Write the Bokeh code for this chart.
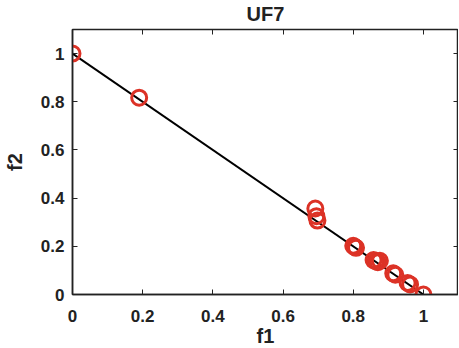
from bokeh.plotting import figure
from bokeh.models import Range1d, FixedTicker, LinearAxis, ColumnDataSource
from bokeh.embed import file_html
from bokeh.resources import INLINE

# True Pareto front (linear)
pf_f1 = [0.0, 1.0]
pf_f2 = [1.0, 0.0]

# Obtained solutions
sol_f1 = [0.0, 0.19, 0.692, 0.695, 0.698, 0.800, 0.805, 0.808, 0.858, 0.864, 0.870, 0.876,
          0.914, 0.920, 0.955, 0.962, 1.0]
sol_f2 = [1.0, 0.817, 0.357, 0.325, 0.307, 0.202, 0.197, 0.194, 0.143, 0.138, 0.134, 0.140,
          0.088, 0.082, 0.048, 0.042, 0.0]

ticks = [0, 0.2, 0.4, 0.6, 0.8, 1.0]
tick_labels = {0: "0", 0.2: "0.2", 0.4: "0.4", 0.6: "0.6", 0.8: "0.8", 1.0: "1"}
blank_labels = {0: "", 0.2: "", 0.4: "", 0.6: "", 0.8: "", 1.0: ""}

FONT = "Liberation Sans"
RED = "#dc3226"
INK = "#222222"

p = figure(frame_width=386, frame_height=265, output_backend="svg", toolbar_location=None,
           x_range=Range1d(0, 1.1), y_range=Range1d(0, 1.1),
           min_border_left=66, min_border_right=0, min_border_top=29, min_border_bottom=47,
           x_axis_label="f1", y_axis_label="f2", title="UF7")

p.title.align = "center"
p.title.vertical_align = "top"
p.title.text_font = FONT
p.title.text_font_size = "20px"
p.title.text_font_style = "bold"
p.title.text_color = INK
p.title.offset = 0
p.title.standoff = 5

p.grid.visible = False
p.outline_line_color = INK
p.outline_line_width = 1.5

for ax in (p.xaxis[0], p.yaxis[0]):
    ax.ticker = FixedTicker(ticks=ticks)
    ax.major_label_overrides = tick_labels
    ax.major_tick_in = 5
    ax.major_tick_out = 0
    ax.minor_tick_in = 0
    ax.minor_tick_out = 0
    ax.axis_line_width = 1.5
    ax.axis_line_color = INK
    ax.major_tick_line_color = INK
    ax.major_label_text_font = FONT
    ax.major_label_text_font_style = "bold"
    ax.major_label_text_font_size = "17px"
    ax.major_label_text_color = INK
    ax.axis_label_text_font = FONT
    ax.axis_label_text_font_style = "bold"
    ax.axis_label_text_font_size = "20px"
    ax.axis_label_text_color = INK

p.xaxis[0].major_label_standoff = 15
p.xaxis[0].axis_label_standoff = 0
p.yaxis[0].major_label_standoff = 8
p.yaxis[0].axis_label_standoff = 12

for loc in ("above", "right"):
    extra = LinearAxis(ticker=FixedTicker(ticks=ticks), major_label_overrides=blank_labels,
                       major_label_text_font_size="1px",
                       major_tick_in=5, major_tick_out=0, minor_tick_in=0, minor_tick_out=0,
                       axis_line_color=None, major_tick_line_color=INK, major_label_standoff=0)
    p.add_layout(extra, loc)

src_pf = ColumnDataSource(dict(x=pf_f1, y=pf_f2))
p.line("x", "y", source=src_pf, line_color="black", line_width=2)

src = ColumnDataSource(dict(x=sol_f1, y=sol_f2))
p.scatter("x", "y", source=src, marker="circle", size=15, fill_color=None,
          line_color=RED, line_width=3)

open("out.html", "w").write(file_html(p, INLINE))
